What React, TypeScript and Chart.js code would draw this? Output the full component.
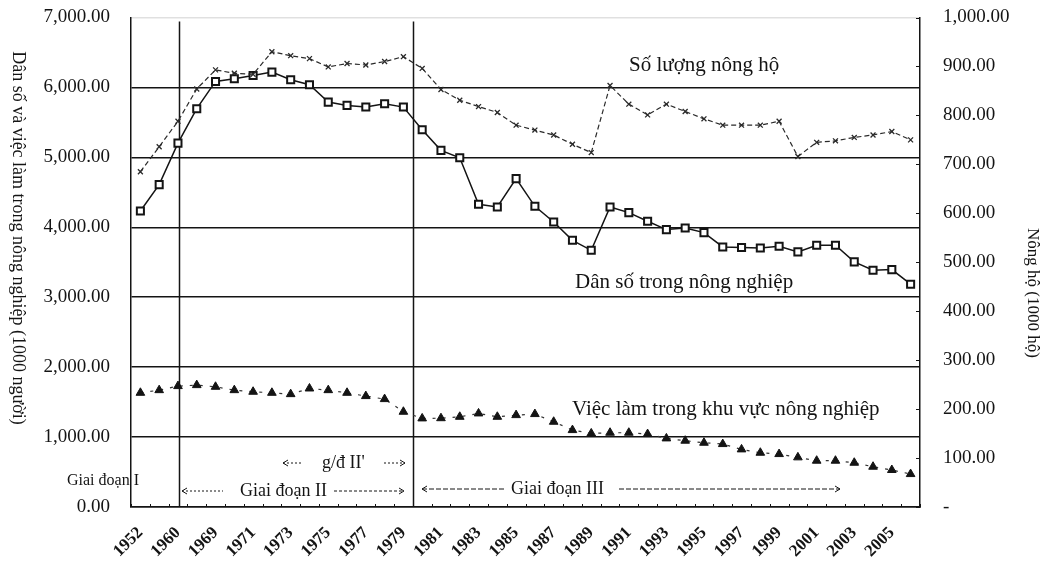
import { useEffect, useRef } from 'react';
import { Chart, registerables } from 'chart.js';

Chart.register(...registerables);

// Categories (every second one is labelled on the axis)
const years = [
  '1952', '1955', '1960', '1965', '1969', '1970', '1971', '1972', '1973', '1974',
  '1975', '1976', '1977', '1978', '1979', '1980', '1981', '1982', '1983', '1984',
  '1985', '1986', '1987', '1988', '1989', '1990', '1991', '1992', '1993', '1994',
  '1995', '1996', '1997', '1998', '1999', '2000', '2001', '2002', '2003', '2004',
  '2005', '2006',
];

// Số lượng nông hộ (1000 hộ) – right axis
const households = [
  685, 736, 788, 854, 893, 886, 884, 930, 922, 916,
  899, 906, 903, 910, 920, 896, 853, 831, 818, 806,
  780, 770, 760, 741, 724, 861, 823, 801, 823, 808,
  793, 780, 780, 780, 788, 716, 745, 748, 755, 760,
  767, 750,
];

// Dân số trong nông nghiệp (1000 người) – left axis
const population = [
  4233, 4610, 5204, 5696, 6086, 6124, 6171, 6219, 6110, 6039,
  5790, 5743, 5719, 5767, 5719, 5396, 5100, 4995, 4329, 4290,
  4696, 4300, 4076, 3814, 3671, 4290, 4210, 4086, 3967, 3990,
  3924, 3719, 3710, 3705, 3729, 3648, 3743, 3743, 3505, 3386,
  3395, 3186,
];

// Việc làm trong khu vực nông nghiệp (1000 người) – left axis
const employment = [
  1633, 1671, 1729, 1743, 1719, 1671, 1648, 1633, 1614, 1695,
  1671, 1633, 1586, 1543, 1362, 1267, 1270, 1290, 1338, 1290,
  1314, 1329, 1219, 1100, 1052, 1062, 1062, 1043, 981, 948,
  919, 900, 824, 776, 757, 710, 662, 662, 633, 576,
  529, 471,
];

const leftTicks = [0, 1000, 2000, 3000, 4000, 5000, 6000, 7000];
const rightTicks = [0, 100, 200, 300, 400, 500, 600, 700, 800, 900, 1000];
// Phase separators, as category positions
const phaseBoundaries = [2.05, 14.5];

const SERIF = "'Liberation Serif', 'Times New Roman', serif";
const INK = '#141414';

const fmt = (v: number) =>
  v.toLocaleString('en-US', { minimumFractionDigits: 2, maximumFractionDigits: 2 });

function arrow(ctx: CanvasRenderingContext2D, x1: number, x2: number, y: number, dash: number[], head: 'left' | 'right') {
  ctx.save();
  ctx.strokeStyle = INK;
  ctx.lineWidth = 1;
  ctx.setLineDash(dash);
  ctx.beginPath();
  ctx.moveTo(x1, y);
  ctx.lineTo(x2, y);
  ctx.stroke();
  ctx.setLineDash([]);
  ctx.beginPath();
  if (head === 'left') {
    ctx.moveTo(x1 + 5, y - 3);
    ctx.lineTo(x1, y);
    ctx.lineTo(x1 + 5, y + 3);
  } else {
    ctx.moveTo(x2 - 5, y - 3);
    ctx.lineTo(x2, y);
    ctx.lineTo(x2 - 5, y + 3);
  }
  ctx.stroke();
  ctx.restore();
}

const decorations = {
  id: 'decorations',
  beforeDatasetsDraw(chart: any) {
    const { ctx, chartArea, scales } = chart;
    const xs = scales.x;
    const yr = scales.y1;
    ctx.save();
    ctx.strokeStyle = INK;
    ctx.lineWidth = 1.5;
    for (const b of phaseBoundaries) {
      const px = Math.round(xs.getPixelForValue(b)) + 0.5;
      ctx.beginPath();
      ctx.moveTo(px, chartArea.top + 4);
      ctx.lineTo(px, chartArea.bottom);
      ctx.stroke();
    }
    ctx.lineWidth = 1;
    for (let i = 0; i <= years.length; i++) {
      const px = Math.round(xs.getPixelForValue(i - 0.5)) + 0.5;
      ctx.beginPath();
      ctx.moveTo(px, chartArea.bottom);
      ctx.lineTo(px, chartArea.bottom - 3);
      ctx.stroke();
    }
    for (const t of rightTicks) {
      const py = Math.round(yr.getPixelForValue(t)) + 0.5;
      ctx.beginPath();
      ctx.moveTo(chartArea.right - 4, py);
      ctx.lineTo(chartArea.right, py);
      ctx.stroke();
    }
    ctx.restore();
  },
  afterDraw(chart: any) {
    const { ctx } = chart;
    ctx.save();
    ctx.fillStyle = INK;
    ctx.textBaseline = 'middle';
    ctx.textAlign = 'left';

    ctx.font = `21px ${SERIF}`;
    ctx.fillText('Số lượng nông hộ', 621, 57);
    ctx.fillText('Dân số trong nông nghiệp', 567, 274);
    ctx.fillText('Việc làm trong khu vực nông nghiệp', 564, 401);

    ctx.font = `16px ${SERIF}`;
    ctx.fillText('Giai đoạn I', 59, 473);

    ctx.font = `18px ${SERIF}`;
    ctx.fillText("g/đ II'", 314, 455);
    arrow(ctx, 275, 294, 455, [2, 2], 'left');
    arrow(ctx, 376, 397, 455, [2, 2], 'right');

    ctx.fillText('Giai đoạn II', 232, 483);
    arrow(ctx, 174, 215, 483, [2, 2], 'left');
    arrow(ctx, 326, 396, 483, [3, 2], 'right');

    ctx.fillText('Giai đoạn III', 503, 481);
    arrow(ctx, 414, 496, 481, [5, 2], 'left');
    arrow(ctx, 611, 832, 481, [5, 2], 'right');

    // axis titles (both read top-to-bottom)
    ctx.textAlign = 'center';
    ctx.font = `18px ${SERIF}`;
    ctx.save();
    ctx.translate(10, 230);
    ctx.rotate(Math.PI / 2);
    ctx.fillText('Dân số và việc làm trong nông nghiệp (1000 người)', 0, 0);
    ctx.restore();

    ctx.font = `17px ${SERIF}`;
    ctx.save();
    ctx.translate(1024, 285);
    ctx.rotate(Math.PI / 2);
    ctx.fillText('Nông hộ (1000 hộ)', 0, 0);
    ctx.restore();

    ctx.restore();
  },
};

export default function App() {
  const canvasRef = useRef<HTMLCanvasElement | null>(null);

  useEffect(() => {
    if (!canvasRef.current) return;
    const chart = new Chart(canvasRef.current, {
      type: 'line',
      data: {
        labels: years,
        datasets: [
          {
            label: 'Số lượng nông hộ',
            data: households,
            yAxisID: 'y1',
            borderColor: '#2a2a2a',
            borderWidth: 1.2,
            borderDash: [5, 3],
            pointStyle: 'crossRot',
            pointRadius: 3.5,
            pointBorderWidth: 1.3,
            pointBorderColor: '#2a2a2a',
            tension: 0,
          },
          {
            label: 'Dân số trong nông nghiệp',
            data: population,
            yAxisID: 'y',
            borderColor: INK,
            borderWidth: 1.5,
            pointStyle: 'rect',
            pointRadius: 5,
            pointBorderWidth: 2,
            pointBorderColor: INK,
            pointBackgroundColor: '#ffffff',
            tension: 0,
          },
          {
            label: 'Việc làm trong khu vực nông nghiệp',
            data: employment,
            yAxisID: 'y',
            borderColor: '#333333',
            borderWidth: 1.2,
            borderDash: [3, 7],
            pointStyle: 'triangle',
            pointRadius: 5,
            pointBorderWidth: 1,
            pointBorderColor: INK,
            pointBackgroundColor: INK,
            tension: 0,
          },
        ],
      },
      options: {
        responsive: false,
        animation: false,
        devicePixelRatio: 1,
        layout: { padding: { top: 9, left: 0, right: 0, bottom: 0 } },
        plugins: {
          legend: { display: false },
          tooltip: { enabled: false },
          title: { display: false },
        },
        scales: {
          x: {
            type: 'category',
            offset: true,
            grid: { display: false, drawTicks: false },
            border: { display: true, color: INK, width: 1.5 },
            ticks: {
              autoSkip: false,
              minRotation: 45,
              maxRotation: 45,
              padding: 16,
              color: INK,
              font: { family: SERIF, size: 17, weight: 'bold' },
              callback: (_v: any, i: number) => (i % 2 === 0 ? years[i] : ''),
            },
            afterFit: (s: any) => {
              s.height = 52;
            },
          },
          y: {
            position: 'left',
            min: 0,
            max: 7000,
            afterBuildTicks: (s: any) => {
              s.ticks = leftTicks.map((v) => ({ value: v }));
            },
            grid: {
              drawTicks: true,
              tickLength: 21,
              tickColor: 'rgba(0,0,0,0)',
              lineWidth: 1.5,
              color: (c: any) => (c.tick && c.tick.value === 7000 ? 'rgba(0,0,0,0.12)' : INK),
            },
            border: { display: true, color: INK, width: 1.5 },
            ticks: {
              padding: 0,
              color: INK,
              font: { family: SERIF, size: 19, lineHeight: 1 },
              callback: (v: any) => fmt(Number(v)),
            },
            afterFit: (s: any) => {
              s.width = 123;
            },
          },
          y1: {
            position: 'right',
            min: 0,
            max: 1000,
            afterBuildTicks: (s: any) => {
              s.ticks = rightTicks.map((v) => ({ value: v }));
            },
            grid: { drawOnChartArea: false, drawTicks: true, tickLength: 23, tickColor: 'rgba(0,0,0,0)' },
            border: { display: true, color: INK, width: 1.5 },
            ticks: {
              padding: 0,
              color: INK,
              font: { family: SERIF, size: 19, lineHeight: 1 },
              callback: (v: any) => (Number(v) === 0 ? '-' : fmt(Number(v))),
            },
            afterFit: (s: any) => {
              s.width = 133;
            },
          },
        },
      },
      plugins: [decorations],
    });
    return () => chart.destroy();
  }, []);

  return <canvas ref={canvasRef} width={1045} height={551} style={{ display: 'block' }} />;
}
